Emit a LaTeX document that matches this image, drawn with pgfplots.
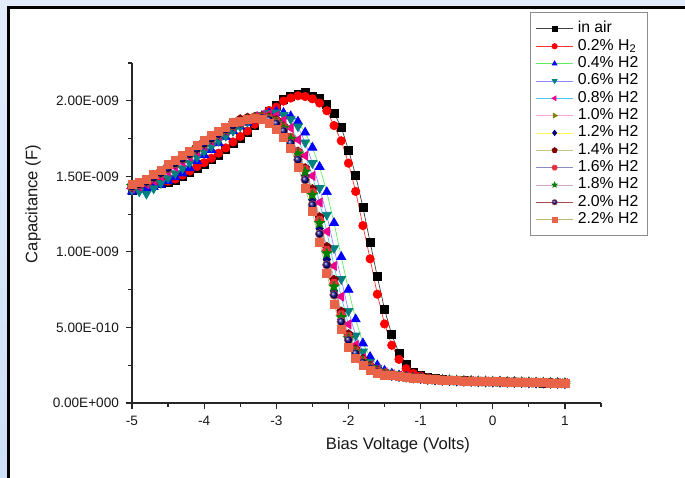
\documentclass[border=0pt]{standalone}
\usepackage{fontspec}
\setmainfont{Liberation Sans}
\usepackage{pgfplots}
\pgfplotsset{compat=1.18}
\usepackage{pgfplotstable}
\usetikzlibrary{plotmarks}

\definecolor{mteal}{RGB}{0,128,128}
\definecolor{molive}{RGB}{128,128,0}
\definecolor{mnavy}{RGB}{0,0,128}
\definecolor{mwine}{RGB}{128,0,0}
\definecolor{mhex}{RGB}{232,48,58}
\definecolor{mgreen}{RGB}{0,128,0}
\definecolor{morange}{RGB}{232,99,72}
\definecolor{lgreen}{RGB}{0,220,0}
\definecolor{lpurple}{RGB}{128,0,128}

\pgfdeclareplotmark{hexagon*}{%
  \pgfpathmoveto{\pgfpointpolar{0}{\pgfplotmarksize}}%
  \pgfpathlineto{\pgfpointpolar{60}{\pgfplotmarksize}}%
  \pgfpathlineto{\pgfpointpolar{120}{\pgfplotmarksize}}%
  \pgfpathlineto{\pgfpointpolar{180}{\pgfplotmarksize}}%
  \pgfpathlineto{\pgfpointpolar{240}{\pgfplotmarksize}}%
  \pgfpathlineto{\pgfpointpolar{300}{\pgfplotmarksize}}%
  \pgfpathclose\pgfusepathqfillstroke}
\pgfdeclareplotmark{fstar}{%
  \pgfpathmoveto{\pgfpointpolar{90}{\pgfplotmarksize}}%
  \pgfpathlineto{\pgfpointpolar{126}{0.42*\pgfplotmarksize}}%
  \pgfpathlineto{\pgfpointpolar{162}{\pgfplotmarksize}}%
  \pgfpathlineto{\pgfpointpolar{198}{0.42*\pgfplotmarksize}}%
  \pgfpathlineto{\pgfpointpolar{234}{\pgfplotmarksize}}%
  \pgfpathlineto{\pgfpointpolar{270}{0.42*\pgfplotmarksize}}%
  \pgfpathlineto{\pgfpointpolar{306}{\pgfplotmarksize}}%
  \pgfpathlineto{\pgfpointpolar{342}{0.42*\pgfplotmarksize}}%
  \pgfpathlineto{\pgfpointpolar{18}{\pgfplotmarksize}}%
  \pgfpathlineto{\pgfpointpolar{54}{0.42*\pgfplotmarksize}}%
  \pgfpathclose\pgfusepathqfillstroke}

% capacitance in units of 1E-009 F
\pgfplotstableread{
V    A     R     B     T     M     OL    ND    DR    RH    G     NB    O
-5.0 1.410 1.420 1.400 1.410 1.420 1.438 1.432 1.440 1.440 1.435 1.430 1.448
-4.9 1.420 1.430 1.410 1.400 1.432 1.452 1.447 1.455 1.452 1.450 1.445 1.462
-4.8 1.433 1.443 1.420 1.385 1.448 1.470 1.465 1.472 1.470 1.468 1.462 1.480
-4.7 1.443 1.452 1.430 1.420 1.472 1.497 1.492 1.500 1.498 1.495 1.490 1.510
-4.6 1.452 1.460 1.444 1.455 1.500 1.527 1.522 1.532 1.528 1.525 1.520 1.540
-4.5 1.460 1.468 1.470 1.490 1.530 1.558 1.555 1.565 1.560 1.556 1.553 1.576
-4.4 1.474 1.482 1.495 1.520 1.562 1.590 1.587 1.596 1.592 1.588 1.585 1.605
-4.3 1.500 1.508 1.520 1.553 1.594 1.622 1.618 1.628 1.623 1.620 1.615 1.636
-4.2 1.527 1.535 1.554 1.590 1.628 1.652 1.648 1.660 1.654 1.650 1.645 1.664
-4.1 1.556 1.565 1.600 1.628 1.664 1.686 1.682 1.693 1.688 1.684 1.680 1.702
-4.0 1.580 1.590 1.642 1.665 1.700 1.720 1.717 1.727 1.722 1.718 1.715 1.737
-3.9 1.610 1.620 1.675 1.700 1.734 1.752 1.749 1.758 1.753 1.750 1.748 1.768
-3.8 1.642 1.653 1.720 1.735 1.768 1.782 1.779 1.790 1.783 1.780 1.778 1.797
-3.7 1.676 1.688 1.760 1.768 1.800 1.811 1.809 1.820 1.812 1.810 1.808 1.826
-3.6 1.716 1.728 1.800 1.800 1.830 1.839 1.837 1.855 1.840 1.838 1.835 1.856
-3.5 1.752 1.764 1.830 1.830 1.856 1.859 1.857 1.878 1.860 1.858 1.855 1.865
-3.4 1.790 1.800 1.855 1.860 1.880 1.876 1.874 1.888 1.877 1.875 1.872 1.878
-3.3 1.835 1.845 1.878 1.885 1.898 1.888 1.886 1.893 1.889 1.887 1.885 1.885
-3.2 1.880 1.890 1.900 1.905 1.908 1.893 1.890 1.896 1.894 1.892 1.888 1.875
-3.1 1.930 1.936 1.918 1.918 1.910 1.885 1.879 1.890 1.886 1.882 1.875 1.850
-3.0 1.972 1.958 1.930 1.922 1.900 1.864 1.855 1.872 1.866 1.860 1.850 1.810
-2.9 2.010 1.998 1.920 1.905 1.870 1.825 1.810 1.830 1.828 1.820 1.800 1.760
-2.8 2.030 2.018 1.898 1.878 1.820 1.755 1.735 1.750 1.760 1.748 1.720 1.685
-2.7 2.045 2.033 1.862 1.830 1.742 1.655 1.630 1.664 1.660 1.650 1.610 1.560
-2.6 2.058 2.028 1.790 1.724 1.636 1.540 1.505 1.554 1.545 1.530 1.477 1.420
-2.5 2.030 2.013 1.690 1.587 1.503 1.390 1.345 1.415 1.395 1.377 1.311 1.265
-2.4 2.018 1.985 1.563 1.422 1.327 1.200 1.155 1.230 1.210 1.190 1.119 1.065
-2.3 1.978 1.934 1.396 1.245 1.135 1.000 0.950 1.033 1.010 0.990 0.914 0.860
-2.2 1.918 1.836 1.192 1.024 0.907 0.780 0.742 0.815 0.792 0.770 0.715 0.656
-2.1 1.826 1.735 0.967 0.820 0.704 0.575 0.552 0.605 0.585 0.567 0.538 0.490
-2.0 1.675 1.587 0.750 0.609 0.521 0.435 0.422 0.455 0.440 0.428 0.417 0.370
-1.9 1.505 1.400 0.554 0.446 0.384 0.345 0.334 0.356 0.348 0.340 0.329 0.296
-1.8 1.296 1.174 0.395 0.340 0.296 0.280 0.272 0.290 0.282 0.277 0.268 0.252
-1.7 1.064 0.954 0.305 0.272 0.250 0.238 0.233 0.245 0.239 0.236 0.230 0.219
-1.6 0.836 0.720 0.250 0.232 0.222 0.211 0.207 0.215 0.212 0.210 0.205 0.197
-1.5 0.620 0.523 0.214 0.207 0.203 0.194 0.191 0.197 0.195 0.193 0.190 0.186
-1.4 0.452 0.382 0.195 0.193 0.190 0.185 0.183 0.186 0.185 0.184 0.182 0.180
-1.3 0.331 0.289 0.183 0.184 0.181 0.178 0.176 0.179 0.178 0.177 0.176 0.175
-1.2 0.254 0.227 0.176 0.177 0.174 0.172 0.171 0.173 0.172 0.172 0.171 0.170
-1.1 0.203 0.195 0.170 0.170 0.168 0.167 0.166 0.168 0.167 0.167 0.166 0.166
-1.0 0.185 0.178 0.166 0.166 0.164 0.163 0.162 0.164 0.163 0.163 0.162 0.162
-0.9 0.172 0.167 0.156 0.160 0.159 0.158 0.157 0.160 0.158 0.159 0.157 0.158
-0.8 0.163 0.160 0.152 0.156 0.155 0.155 0.154 0.156 0.155 0.155 0.154 0.155
-0.7 0.157 0.155 0.151 0.153 0.152 0.152 0.151 0.153 0.152 0.152 0.151 0.152
-0.6 0.152 0.151 0.148 0.150 0.150 0.150 0.149 0.151 0.150 0.150 0.149 0.150
-0.5 0.149 0.149 0.146 0.148 0.148 0.148 0.147 0.149 0.148 0.148 0.147 0.148
-0.4 0.147 0.146 0.142 0.146 0.146 0.146 0.145 0.147 0.146 0.146 0.145 0.146
-0.3 0.145 0.145 0.145 0.145 0.145 0.145 0.144 0.146 0.145 0.145 0.144 0.145
-0.2 0.144 0.144 0.140 0.143 0.143 0.143 0.142 0.144 0.143 0.143 0.142 0.143
-0.1 0.143 0.142 0.143 0.142 0.142 0.142 0.141 0.143 0.142 0.142 0.141 0.142
0.0  0.141 0.141 0.137 0.141 0.141 0.141 0.140 0.142 0.141 0.141 0.140 0.141
0.1  0.140 0.140 0.141 0.140 0.140 0.140 0.139 0.141 0.140 0.140 0.139 0.140
0.2  0.139 0.139 0.135 0.139 0.139 0.139 0.138 0.140 0.139 0.139 0.138 0.139
0.3  0.138 0.138 0.139 0.138 0.138 0.138 0.137 0.139 0.138 0.138 0.137 0.138
0.4  0.137 0.137 0.133 0.137 0.137 0.137 0.136 0.138 0.137 0.137 0.136 0.137
0.5  0.136 0.136 0.136 0.136 0.136 0.136 0.135 0.137 0.136 0.136 0.135 0.136
0.6  0.134 0.135 0.131 0.135 0.135 0.135 0.134 0.136 0.135 0.135 0.134 0.135
0.7  0.133 0.133 0.134 0.134 0.134 0.134 0.133 0.135 0.134 0.134 0.133 0.134
0.8  0.132 0.132 0.129 0.133 0.133 0.133 0.132 0.134 0.133 0.133 0.132 0.133
0.9  0.131 0.130 0.131 0.132 0.132 0.132 0.131 0.133 0.132 0.132 0.131 0.132
1.0  0.129 0.129 0.128 0.131 0.131 0.131 0.130 0.132 0.131 0.131 0.130 0.131
}\capdata

\begin{document}
\begin{tikzpicture}
\useasboundingbox (-66pt,-37pt) rectangle (276.5pt,201.5pt);
\shade[top color={rgb,255:red,226;green,236;blue,251}, bottom color={rgb,255:red,205;green,222;blue,248}] (-66pt,-37pt) rectangle (276.5pt,201.5pt);
\fill[white] (-61.75pt,-40pt) rectangle (280pt,197.75pt);
\draw[black, line width=1.1pt] (-61.75pt,-40pt) -- (-61.75pt,197.75pt) -- (280pt,197.75pt);
\begin{axis}[
  at={(0pt,0pt)}, anchor=south west,
  scale only axis, width=234.5pt, height=170pt,
  xmin=-5, xmax=1.5, ymin=0, ymax=2.25,
  clip=false,
  axis x line=bottom, axis y line=left,
  axis line style={-, line width=0.7pt, black!85},
  tick align=outside,
  tick style={black!85, line width=0.6pt},
  major tick length=3pt, minor tick length=1.8pt,
  xtick={-5,-4,-3,-2,-1,0,1},
  xticklabels={-5,-4,-3,-2,-1,0,1},
  minor xtick={-4.5,-3.5,-2.5,-1.5,-0.5,0.5,1.5},
  ytick={0,0.5,1,1.5,2},
  yticklabels={0.00E+000,5.00E-010,1.00E-009,1.50E-009,2.00E-009},
  minor ytick={0.25,0.75,1.25,1.75,2.25},
  tick label style={font=\fontsize{6.8}{8}\selectfont, black!90},
  xlabel={Bias Voltage (Volts)},
  ylabel={Capacitance (F)},
  label style={font=\fontsize{8.3}{10}\selectfont, black!90},
  xlabel style={at={(axis description cs:0.567,-0.1235)}, anchor=center},
  ylabel style={at={(axis description cs:-0.211,0.585)}, anchor=center},
  legend style={at={(0.8486,1.15)}, anchor=north west, draw=black!45,
    line width=0.5pt, fill=white,
    font=\fontsize{7.9}{8.6}\selectfont, cells={anchor=west},
    inner sep=2.5pt, row sep=-2.35pt},
  legend image code/.code={%
    \draw[mark repeat=2,mark phase=2] plot coordinates {(0cm,0cm) (0.33cm,0cm) (0.66cm,0cm)};},
  legend image post style={mark size=1.35pt},
  every axis plot/.append style={line width=0.35pt},
]
\addplot[color=black!75, mark=square*, mark size=2.0pt, mark options={draw=black, fill=black, solid}] table[x=V, y=A] {\capdata};
\addlegendentry{in air}
\addplot[color=red!80, mark=*, mark size=2.1pt, mark options={draw=red, fill=red, solid}] table[x=V, y=R] {\capdata};
\addlegendentry{0.2\% H\textsubscript{2}}
\addplot[color=lgreen!60, mark=triangle*, mark size=2.6pt, mark options={draw=blue, fill=blue, solid}] table[x=V, y=B] {\capdata};
\addlegendentry{0.4\% H2}
\addplot[color=blue!45, mark=triangle*, mark size=2.6pt, mark options={draw=mteal, fill=mteal, rotate=180, solid}] table[x=V, y=T] {\capdata};
\addlegendentry{0.6\% H2}
\addplot[color=cyan!70, mark=triangle*, mark size=2.6pt, mark options={draw=magenta, fill=magenta, rotate=90, solid}] table[x=V, y=M] {\capdata};
\addlegendentry{0.8\% H2}
\addplot[color=magenta!35, mark=triangle*, mark size=2.6pt, mark options={draw=molive, fill=molive, rotate=-90, solid}] table[x=V, y=OL] {\capdata};
\addlegendentry{1.0\% H2}
\addplot[color=yellow!70, mark=diamond*, mark size=2.5pt, mark options={draw=mnavy, fill=mnavy, solid}] table[x=V, y=ND] {\capdata};
\addlegendentry{1.2\% H2}
\addplot[color=molive!45, mark=pentagon*, mark size=2.3pt, mark options={draw=mwine, fill=mwine, solid}] table[x=V, y=DR] {\capdata};
\addlegendentry{1.4\% H2}
\addplot[color=mnavy!45, mark=hexagon*, mark size=2.2pt, mark options={draw=mhex, fill=mhex, solid}] table[x=V, y=RH] {\capdata};
\addlegendentry{1.6\% H2}
\addplot[color=lpurple!35, mark=fstar, mark size=2.6pt, mark options={draw=mgreen, fill=mgreen, solid}] table[x=V, y=G] {\capdata};
\addlegendentry{1.8\% H2}
\addplot[color=mwine!70, mark=ball, mark size=2.1pt, mark options={ball color=mnavy, solid}] table[x=V, y=NB] {\capdata};
\addlegendentry{2.0\% H2}
\addplot[color=molive!55, mark=square*, mark size=2.0pt, mark options={draw=morange, fill=morange, solid}] table[x=V, y=O] {\capdata};
\addlegendentry{2.2\% H2}
\end{axis}
\end{tikzpicture}
\end{document}
